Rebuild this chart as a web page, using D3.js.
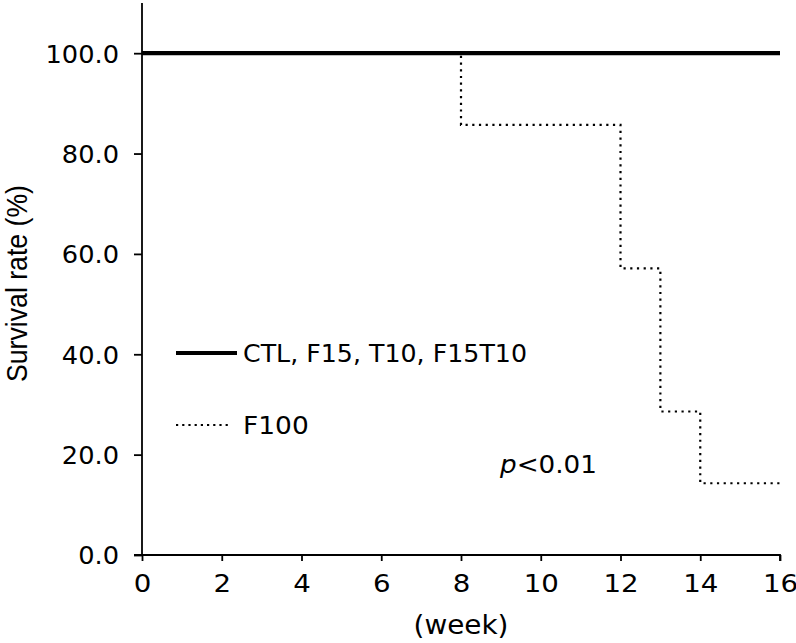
<!DOCTYPE html>
<html>
<head>
<meta charset="utf-8">
<script src="https://cdn.jsdelivr.net/npm/d3@7"></script>
<style>
  html, body { margin: 0; padding: 0; background: #fff; }
  svg { display: block; }
  text { font-family: "DejaVu Sans", Verdana, sans-serif; fill: #000; }
</style>
</head>
<body>
<svg id="chart" width="796" height="643"></svg>
<script>
// ---- data ----
const weeks = [0, 8, 12, 13, 14, 16];
const f100Survival = [100.0, 85.7, 57.1, 28.6, 14.3, 14.3];
const ctlWeeks = [0, 16];
const ctlSurvival = [100.0, 100.0];
const xTicks = [0, 2, 4, 6, 8, 10, 12, 14, 16];
const yTicks = [0, 20, 40, 60, 80, 100];
const legendLabels = ["CTL, F15, T10, F15T10", "F100"];
const xTitle = "(week)";
const yTitle = "Survival rate (%)";
const pText = "<0.01";

// ---- layout ----
const svg = d3.select("#chart");
const mLeft = 142, mRight = 780, mTop = 3, mBottom = 555;
const x = d3.scaleLinear().domain([0, 16]).range([mLeft, mRight]);
const y = d3.scaleLinear().domain([0, 110]).range([mBottom, mTop]);

function stretch(sel, k) {
  sel.each(function () {
    const w = this.getComputedTextLength();
    d3.select(this).attr("textLength", w * k).attr("lengthAdjust", "spacingAndGlyphs");
  });
}

// axes
const xAxis = d3.axisBottom(x).tickValues(xTicks).tickSize(6).tickPadding(8)
  .tickFormat(d3.format("d"));
const gx = svg.append("g").attr("transform", `translate(0,${mBottom})`).call(xAxis);
gx.select(".domain").attr("d", `M${mLeft - 8},0H${mRight}V6`).attr("stroke-width", 1.8);
gx.selectAll(".tick line").attr("stroke-width", 1.8);
gx.selectAll(".tick text").style("font-size", "24.7px").attr("dy", "0.95em")
  .style("font-family", "DejaVu Sans");
stretch(gx.selectAll(".tick text"), 1.12);

const yAxis = d3.axisLeft(y).tickValues(yTicks).tickSize(8).tickPadding(15)
  .tickFormat(d3.format(".1f"));
const gy = svg.append("g").attr("transform", `translate(${mLeft},0)`).call(yAxis);
gy.select(".domain").attr("d", `M0,${mTop}V${mBottom}`).attr("stroke-width", 1.8);
gy.selectAll(".tick line").attr("stroke-width", 1.8);
gy.selectAll(".tick text").style("font-size", "24.7px").attr("dy", "0.36em")
  .style("font-family", "DejaVu Sans");
stretch(gy.selectAll(".tick text"), 1.04);

// lines
const line = d3.line().curve(d3.curveStepAfter).x(d => x(d[0])).y(d => y(d[1]));
svg.append("path")
  .datum(weeks.map((w, i) => [w, f100Survival[i]]))
  .attr("d", line).attr("fill", "none").attr("stroke", "#000")
  .attr("stroke-width", 2.2).attr("stroke-dasharray", "2.2,4.5");
svg.append("path")
  .datum(ctlWeeks.map((w, i) => [w, ctlSurvival[i]]))
  .attr("d", line).attr("fill", "none").attr("stroke", "#000")
  .attr("stroke-width", 4.2);

// legend
const lx = 176;
svg.append("line").attr("x1", lx).attr("x2", 237).attr("y1", 353).attr("y2", 353)
  .attr("stroke", "#000").attr("stroke-width", 4.2);
svg.append("text").attr("x", 243).attr("y", 362).style("font-size", "24.5px")
  .attr("textLength", 284).attr("lengthAdjust", "spacingAndGlyphs")
  .text(legendLabels[0]);
svg.append("line").attr("x1", lx).attr("x2", 229).attr("y1", 425).attr("y2", 425)
  .attr("stroke", "#000").attr("stroke-width", 2.2).attr("stroke-dasharray", "2.2,4");
const l2 = svg.append("text").attr("x", 243).attr("y", 434).style("font-size", "24.5px")
  .text(legendLabels[1]);
stretch(l2, 1.08);

// p value
const pt = svg.append("text").attr("x", 500).attr("y", 473).style("font-size", "24.5px")
  .attr("textLength", 97).attr("lengthAdjust", "spacingAndGlyphs");
pt.append("tspan").style("font-style", "italic").text("p");
pt.append("tspan").text(pText);

// axis titles
svg.append("text").attr("x", 461).attr("y", 634).attr("text-anchor", "middle")
  .style("font-size", "26px").attr("textLength", 95).attr("lengthAdjust", "spacingAndGlyphs")
  .text(xTitle);
svg.append("text").attr("transform", "translate(27,283.5) rotate(-90)")
  .attr("text-anchor", "middle")
  .style("font-family", "'Liberation Sans', Arial, sans-serif")
  .style("font-size", "29.5px").attr("textLength", 197).attr("lengthAdjust", "spacingAndGlyphs")
  .text(yTitle);
</script>
</body>
</html>
